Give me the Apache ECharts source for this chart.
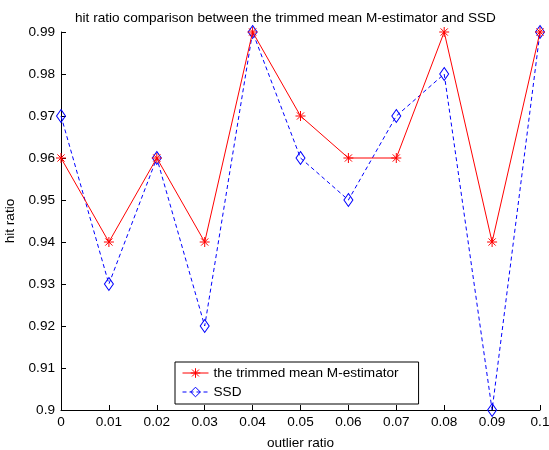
<!DOCTYPE html>
<html>
<head>
<meta charset="utf-8">
<script src="https://cdn.jsdelivr.net/npm/echarts@6/dist/echarts.min.js"></script>
<style>
  html, body { margin: 0; padding: 0; background: #fff; }
  #chart { width: 549px; height: 450px; }
</style>
</head>
<body>
<div id="chart"></div>
<script>
// data
const outlierRatio = [0, 0.01, 0.02, 0.03, 0.04, 0.05, 0.06, 0.07, 0.08, 0.09, 0.1];
const trimmedMean = [0.96, 0.94, 0.96, 0.94, 0.99, 0.97, 0.96, 0.96, 0.99, 0.94, 0.99];
const ssd = [0.97, 0.93, 0.96, 0.92, 0.99, 0.96, 0.95, 0.97, 0.98, 0.90, 0.99];

const font = 'Liberation Sans, Arial, sans-serif';
const fs = 13.6;
const star = 'path://M0,-5L0,5M-5,0L5,0M-3.6,-3.6L3.6,3.6M-3.6,3.6L3.6,-3.6';

function pairs(xs, ys) {
  return xs.map((x, i) => [x, ys[i]]);
}
function fmt(v) {
  return String(parseFloat(v.toFixed(4)));
}

const chart = echarts.init(document.getElementById('chart'));
chart.setOption({
  backgroundColor: '#fff',
  animation: false,
  textStyle: { fontFamily: font },
  title: {
    text: 'hit ratio comparison between the trimmed mean M-estimator and SSD',
    left: 70,
    top: 6,
    textStyle: { fontSize: fs, fontWeight: 'normal', color: '#000', fontFamily: font }
  },
  grid: { left: 61, right: 9, top: 32, bottom: 40, containLabel: false, outerBoundsMode: 'none' },
  legend: {
    left: 175,
    top: 362,
    orient: 'vertical',
    padding: [4, 20, 5, 7],
    itemGap: 5,
    itemWidth: 26,
    itemHeight: 12,
    backgroundColor: '#fff',
    borderColor: '#000',
    borderWidth: 1,
    borderRadius: 0,
    lineStyle: { width: 1 },
    itemStyle: { borderWidth: 1 },
    textStyle: { fontSize: fs, color: '#000', fontFamily: font },
    data: ['the trimmed mean M-estimator', 'SSD']
  },
  xAxis: {
    type: 'value',
    min: 0,
    max: 0.1,
    interval: 0.01,
    name: 'outlier ratio',
    nameLocation: 'middle',
    nameGap: 26,
    nameTextStyle: { fontSize: fs, color: '#000' },
    axisLine: { lineStyle: { color: '#000' } },
    axisTick: { inside: true, length: 5, lineStyle: { color: '#000' } },
    axisLabel: { color: '#000', fontSize: fs, margin: 5, formatter: fmt },
    splitLine: { show: false }
  },
  yAxis: {
    type: 'value',
    min: 0.9,
    max: 0.99,
    interval: 0.01,
    name: 'hit ratio',
    nameLocation: 'middle',
    nameGap: 42,
    nameTextStyle: { fontSize: fs, color: '#000' },
    axisLine: { show: true, lineStyle: { color: '#000' } },
    axisTick: { show: true, inside: true, length: 5, lineStyle: { color: '#000' } },
    axisLabel: { color: '#000', fontSize: fs, margin: 6, formatter: fmt },
    splitLine: { show: false }
  },
  series: [
    {
      name: 'the trimmed mean M-estimator',
      type: 'line',
      data: pairs(outlierRatio, trimmedMean),
      symbol: star,
      symbolSize: 10,
      showAllSymbol: true,
      lineStyle: { color: '#ff0000', width: 1 },
      itemStyle: { color: '#ff0000', borderColor: '#ff0000', borderWidth: 1 },
      z: 3
    },
    {
      name: 'SSD',
      type: 'line',
      data: pairs(outlierRatio, ssd),
      symbol: 'diamond',
      symbolSize: [9, 13],
      showAllSymbol: true,
      lineStyle: { color: '#0000ff', width: 1, type: [4, 3] },
      itemStyle: { color: 'rgba(255,255,255,0)', borderColor: '#0000ff', borderWidth: 1 },
      z: 2
    }
  ]
});
</script>
</body>
</html>
